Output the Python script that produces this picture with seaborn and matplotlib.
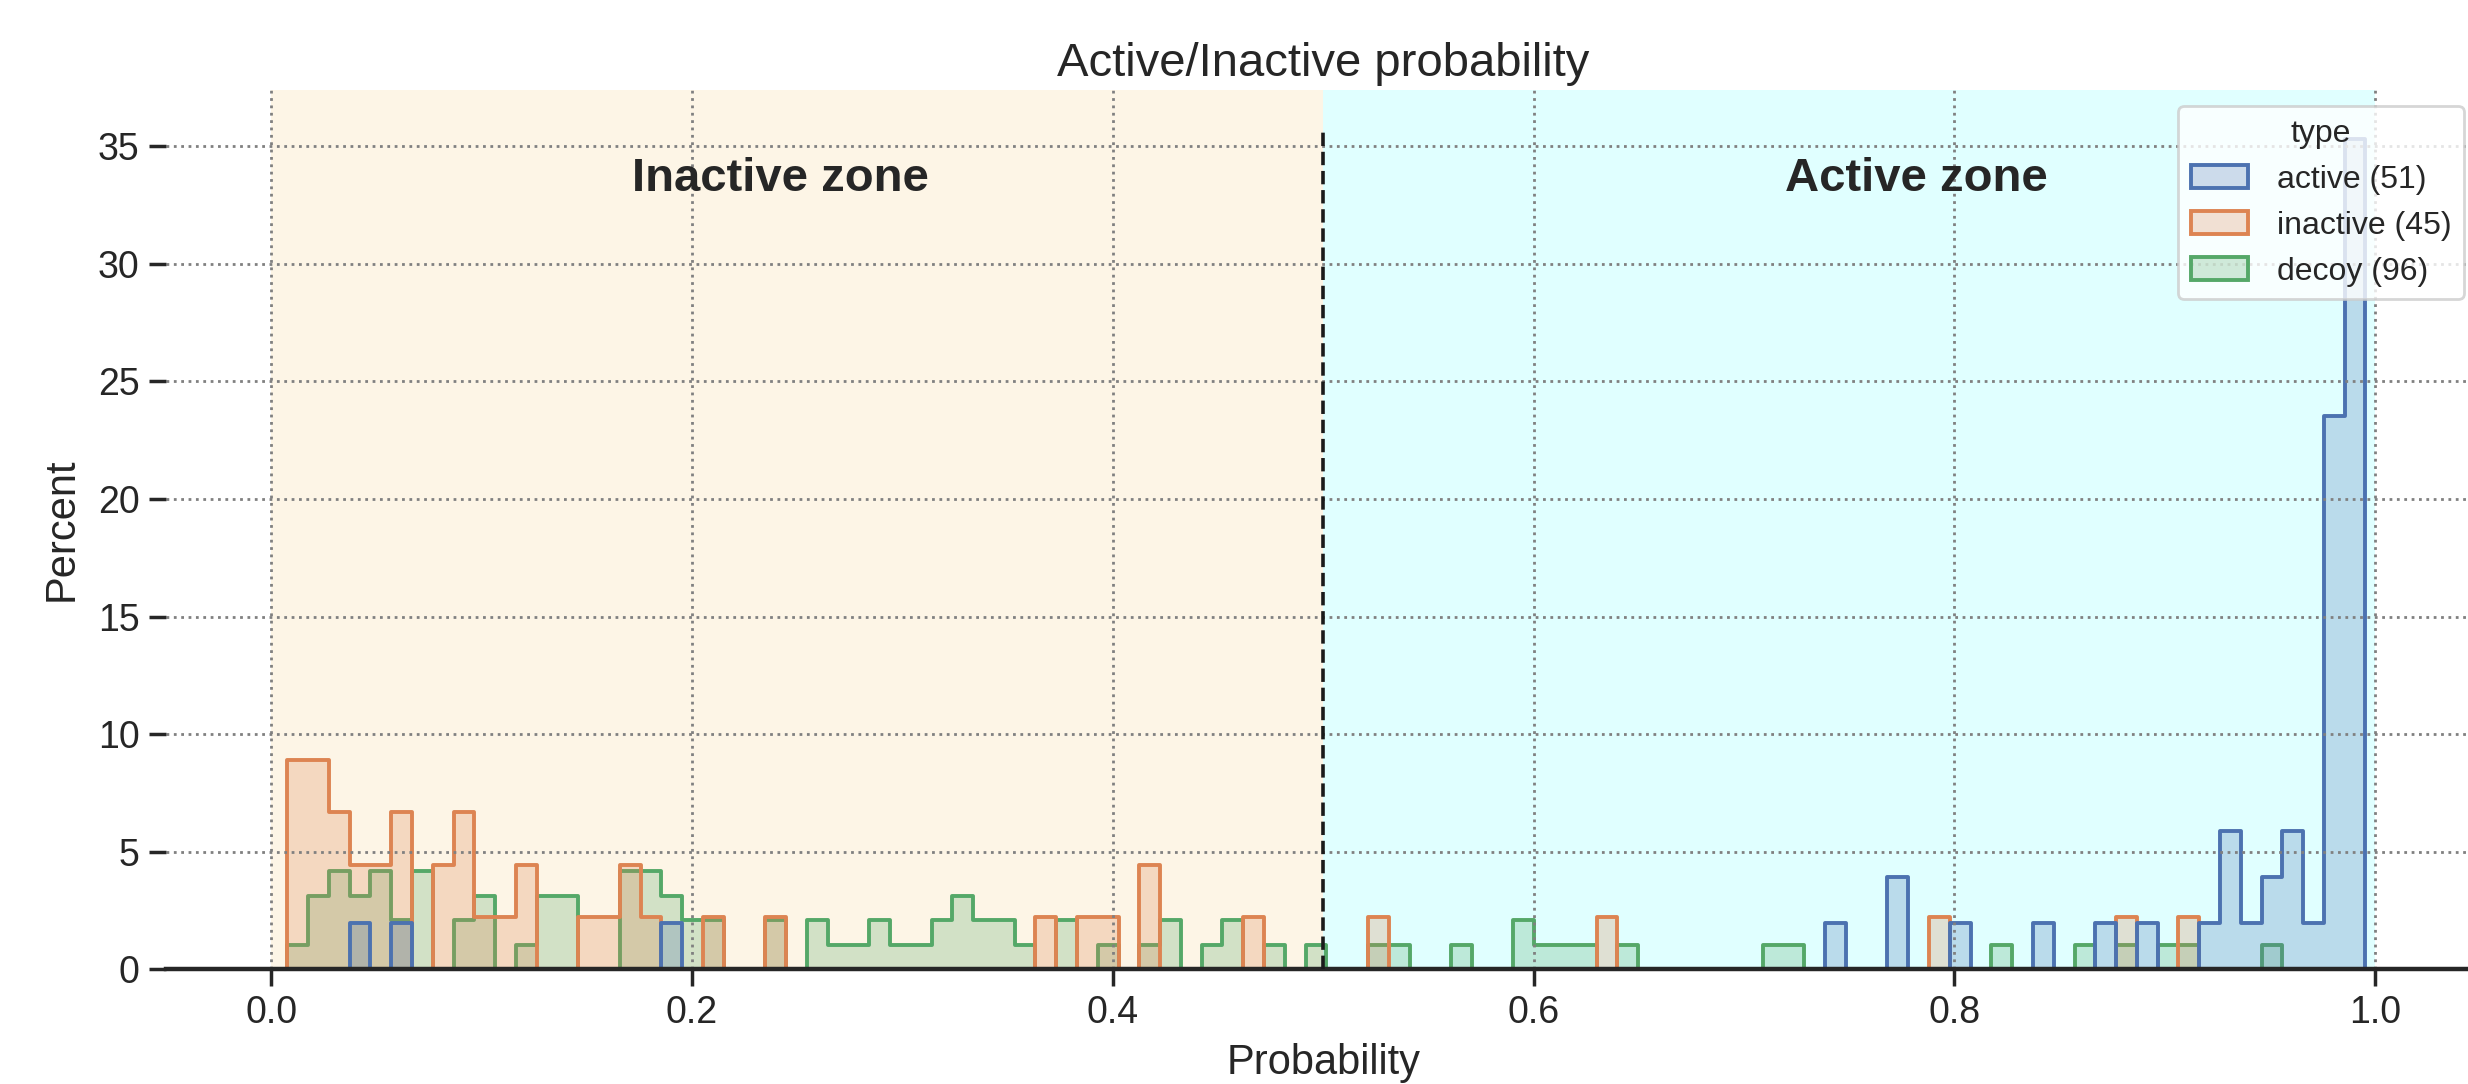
import numpy as np
import pandas as pd
import seaborn as sns
import matplotlib
matplotlib.use('Agg')
import matplotlib.pyplot as plt

# histogram layout: 100 bins between the smallest and largest probability
bin_lo = 0.0076
bin_hi = 0.9954
n_bins = 100
threshold = 0.5
cutoff_line_top = 35.6

# bin index -> number of compounds, one pair of lists per type
active_bins = [3, 5, 18, 74, 77, 80, 84, 87, 89, 92, 93, 94, 95, 96, 97, 98, 99]
active_counts = [1, 1, 1, 1, 2, 1, 1, 1, 1, 1, 3, 1, 2, 3, 1, 12, 18]

inactive_bins = [0, 1, 2, 3, 4, 5, 7, 8, 9, 10, 11, 14, 15, 16, 17, 20, 23,
                 36, 38, 39, 41, 46, 52, 63, 79, 88, 91]
inactive_counts = [4, 4, 3, 2, 2, 3, 2, 3, 1, 1, 2, 1, 1, 2, 1, 1, 1,
                   1, 1, 1, 2, 1, 1, 1, 1, 1, 1]

decoy_bins = [0, 1, 2, 3, 4, 5, 6, 8, 9, 11, 12, 13, 16, 17, 18, 19, 20, 23,
              25, 26, 27, 28, 29, 30, 31, 32, 33, 34, 35, 37, 39, 41, 42, 44, 45,
              47, 49, 52, 53, 56, 59, 60, 61, 62, 64, 71, 72, 82, 86, 88, 90, 91, 95]
decoy_counts = [1, 3, 4, 3, 4, 2, 4, 2, 3, 1, 3, 3, 4, 4, 3, 2, 2, 2,
                2, 1, 1, 2, 1, 1, 2, 3, 2, 2, 1, 2, 1, 1, 2, 1, 2,
                1, 1, 1, 1, 1, 2, 1, 1, 1, 1, 1, 1, 1, 1, 1, 1, 1, 1]

type_names = ['active', 'inactive', 'decoy']


def build_frame():
    width = (bin_hi - bin_lo) / n_bins
    frames = []
    for name, bins, counts in zip(type_names,
                                  [active_bins, inactive_bins, decoy_bins],
                                  [active_counts, inactive_counts, decoy_counts]):
        label = f'{name} ({sum(counts)})'
        centers = bin_lo + (np.array(bins) + 0.5) * width
        frames.append(pd.DataFrame({'Probability': centers, 'count': counts, 'type': label}))
    return pd.concat(frames, ignore_index=True)


data = build_frame()
hue_order = list(data['type'].unique())

sns.set_theme(style='ticks')
plt.rcParams['font.family'] = ['Liberation Sans', 'DejaVu Sans']

fig = plt.figure(figsize=(12.34, 5.42), dpi=200)
ax = fig.add_axes([0.0673, 0.106, 0.9377, 0.811])

# background zones
ax.axvspan(0, threshold, color='oldlace', zorder=0, lw=0)
ax.axvspan(threshold, 1, color='lightcyan', zorder=0, lw=0)

sns.histplot(data=data, x='Probability', hue='type', hue_order=hue_order, weights='count',
             bins=n_bins, binrange=(bin_lo, bin_hi), stat='percent', common_norm=False,
             element='step', linewidth=1.4, ax=ax)

ax.vlines(threshold, 0, cutoff_line_top, colors='k', linestyles='--', lw=1.3, zorder=3)

ax.text(0.242, 33.6, 'Inactive zone', ha='center', va='center', fontsize=17,
        fontweight='bold', color='.15')
ax.text(0.782, 33.6, 'Active zone', ha='center', va='center', fontsize=17,
        fontweight='bold', color='.15')

ax.set_xlim(-0.05, 1.05)
ax.set_ylim(0, 37.4)
ax.grid(True, linestyle=':', color='gray', linewidth=1)
ax.set_axisbelow('line')
sns.despine(ax=ax, left=True)
ax.spines['bottom'].set_linewidth(1.6)

ax.set_title('Active/Inactive probability', fontsize=17, pad=5, color='.15')
ax.set_xlabel('Probability', fontsize=15)
ax.set_ylabel('Percent', fontsize=15, labelpad=6)
ax.tick_params(axis='both', labelsize=13.5)

sns.move_legend(ax, 'upper right', fontsize=11.5, title_fontsize=11.5,
                handlelength=1.8, handletextpad=0.9)

plt.savefig('out.png', dpi=200)
plt.close()
